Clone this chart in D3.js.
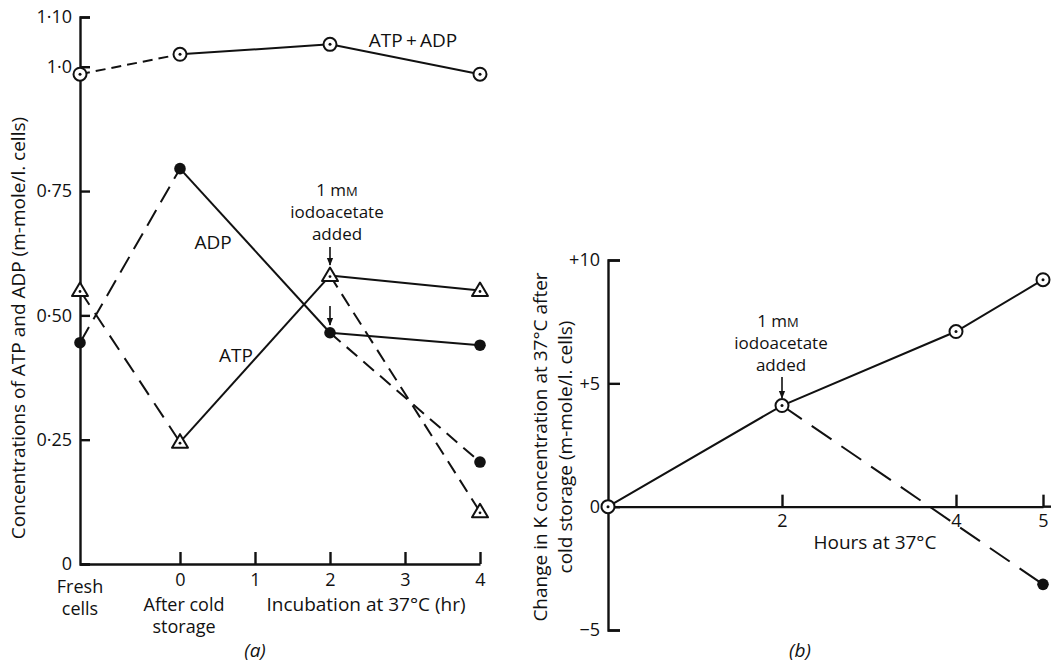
<!DOCTYPE html>
<html>
<head>
<meta charset="utf-8">
<title>ATP, ADP and K changes</title>
<style>
  html, body { margin: 0; padding: 0; background: #fff; }
  svg { display: block; }
  text { font-family: "Open Sans", "DejaVu Sans", sans-serif; fill: #111; font-weight: 500; }
  .axis path, .axis line { stroke: #111; stroke-width: 2.4; }
  .axis text { font-size: 18px; font-family: "Open Sans", sans-serif; fill: #111; }
  .line { fill: none; stroke: #111; stroke-width: 2; }
</style>
</head>
<body>
<svg width="1051" height="664">
  <defs>
    <marker id="arrow" viewBox="0 0 10 10" refX="9" refY="5" markerWidth="8" markerHeight="8"
            markerUnits="userSpaceOnUse" orient="auto">
      <path d="M 0 1 L 10 5 L 0 9 z" fill="#111"/>
    </marker>
  </defs>
</svg>
<script src="https://cdn.jsdelivr.net/npm/d3@7/dist/d3.min.js"></script>
<script>
// ---- panel (a) data: concentrations, m-mole/l. cells ----
// "Fresh cells" column sits left of hour 0 on the same axis
const FRESH = -4 / 3;
const timesA = [FRESH, 0, 2, 4];
const sumVals = [0.985, 1.025, 1.045, 0.985];         // ATP + ADP
const adpVals = [0.445, 0.795, 0.465];                 // fresh, 0, 2 hr
const atpVals = [0.55, 0.245, 0.58];
const adpAt4 = { control: 0.44, iodo: 0.205 };
const atpAt4 = { control: 0.55, iodo: 0.105 };
const yTicksA = [0, 0.25, 0.5, 0.75, 1.0, 1.10];
const yTickLabelsA = ["0", "0·25", "0·50", "0·75", "1·0", "1·10"];
const xTicksA = [0, 1, 2, 3, 4];

// ---- panel (b) data: change in K, m-mole/l. cells ----
const hoursB = [0, 2, 4, 5];
const kControl = [0, 4.1, 7.1, 9.2];
const kIodo = [[2, 4.1], [5, -3.15]];
const yTicksB = [-5, 0, 5, 10];
const yTickLabelsB = ["\u22125", "0", "+5", "+10"];
const xTicksB = [2, 4, 5];

var svg = d3.select("svg");

// ---------- panel (a) ----------
var xa = d3.scaleLinear().domain([FRESH, 4]).range([80, 480]);
var ya = d3.scaleLinear().domain([0, 1.10]).range([564, 17]);

var ga = svg.append("g");

ga.append("g").attr("class", "axis")
  .attr("transform", "translate(80,0)")
  .call(d3.axisLeft(ya).tickValues(yTicksA).tickSize(-10).tickSizeOuter(-10).tickPadding(8)
    .tickFormat((d, i) => yTickLabelsA[i]));

var xAxisA = ga.append("g").attr("class", "axis")
  .attr("transform", "translate(0,564)")
  .call(d3.axisBottom(xa).tickValues(xTicksA).tickFormat(d3.format("d"))
    .tickSize(-12).tickSizeOuter(0));
xAxisA.selectAll("text").attr("y", 9);

var line = d3.line();

function seg(g, p1, p2, dash, sx, sy) {
  g.append("path").attr("class", "line")
    .attr("d", line([[sx(p1[0]), sy(p1[1])], [sx(p2[0]), sy(p2[1])]]))
    .attr("stroke-dasharray", dash || null);
}

// ATP + ADP
seg(ga, [timesA[0], sumVals[0]], [timesA[1], sumVals[1]], "10,6", xa, ya);
seg(ga, [timesA[1], sumVals[1]], [timesA[2], sumVals[2]], null, xa, ya);
seg(ga, [timesA[2], sumVals[2]], [timesA[3], sumVals[3]], null, xa, ya);
// ADP
seg(ga, [timesA[0], adpVals[0]], [timesA[1], adpVals[1]], "18,9", xa, ya);
seg(ga, [timesA[1], adpVals[1]], [timesA[2], adpVals[2]], null, xa, ya);
seg(ga, [2, adpVals[2]], [4, adpAt4.control], null, xa, ya);
seg(ga, [2, adpVals[2]], [4, adpAt4.iodo], "14,8", xa, ya);
// ATP
seg(ga, [timesA[0], atpVals[0]], [timesA[1], atpVals[1]], "17,10", xa, ya);
seg(ga, [timesA[1], atpVals[1]], [timesA[2], atpVals[2]], null, xa, ya);
seg(ga, [2, atpVals[2]], [4, atpAt4.control], null, xa, ya);
seg(ga, [2, atpVals[2]], [4, atpAt4.iodo], "14,8", xa, ya);

function dotCircle(g, x, y) {
  g.append("circle").attr("cx", x).attr("cy", y).attr("r", 6.5)
    .attr("fill", "#fff").attr("stroke", "#111").attr("stroke-width", 2);
  g.append("circle").attr("cx", x).attr("cy", y).attr("r", 1.5).attr("fill", "#111");
}
function filled(g, x, y) {
  g.append("circle").attr("cx", x).attr("cy", y).attr("r", 5.8).attr("fill", "#111");
}
function triangle(g, x, y) {
  g.append("path")
    .attr("d", `M${x},${y - 8} L${x + 8},${y + 5.5} L${x - 8},${y + 5.5} Z`)
    .attr("fill", "#fff").attr("stroke", "#111").attr("stroke-width", 2)
    .attr("stroke-linejoin", "round");
  g.append("circle").attr("cx", x).attr("cy", y + 1).attr("r", 1.4).attr("fill", "#111");
}

timesA.forEach((t, i) => dotCircle(ga, xa(t), ya(sumVals[i])));
timesA.slice(0, 3).forEach((t, i) => filled(ga, xa(t), ya(adpVals[i])));
filled(ga, xa(4), ya(adpAt4.control));
filled(ga, xa(4), ya(adpAt4.iodo));
timesA.slice(0, 3).forEach((t, i) => triangle(ga, xa(t), ya(atpVals[i])));
triangle(ga, xa(4), ya(atpAt4.control));
triangle(ga, xa(4), ya(atpAt4.iodo));

// labels
function txt(g, x, y, s, opts) {
  var t = g.append("text").attr("x", x).attr("y", y).attr("font-size", (opts && opts.size) || 19)
    .attr("text-anchor", (opts && opts.anchor) || "middle");
  if (opts && opts.italic) t.attr("font-style", "italic");
  t.text(s);
  return t;
}
function mM(g, x, y) {
  var t = g.append("text").attr("x", x).attr("y", y).attr("font-size", 17).attr("text-anchor", "middle");
  t.append("tspan").text("1 m");
  t.append("tspan").attr("font-size", 13).text("M");
}

txt(ga, 413, 47, "ATP\u2009+\u2009ADP");
txt(ga, 213, 249, "ADP");
txt(ga, 236, 362, "ATP");
mM(ga, 337, 196);
txt(ga, 337, 218, "iodoacetate", { size: 17 });
txt(ga, 337, 240, "added", { size: 17 });
ga.append("line").attr("x1", xa(2)).attr("x2", xa(2)).attr("y1", 247).attr("y2", 265)
  .attr("stroke", "#111").attr("stroke-width", 1.6).attr("marker-end", "url(#arrow)");
ga.append("line").attr("x1", xa(2)).attr("x2", xa(2)).attr("y1", 306).attr("y2", 325)
  .attr("stroke", "#111").attr("stroke-width", 1.6).attr("marker-end", "url(#arrow)");

txt(ga, 80, 593, "Fresh", { size: 18 });
txt(ga, 80, 615, "cells", { size: 18 });
txt(ga, 184, 611, "After cold", { size: 18 });
txt(ga, 184, 633, "storage", { size: 18 });
txt(ga, 366, 611, "Incubation at 37°C (hr)");
txt(ga, 255, 657, "(a)", { italic: true });

ga.append("text").attr("transform", "translate(25,328) rotate(-90)")
  .attr("text-anchor", "middle").attr("font-size", 19)
  .text("Concentrations of ATP and ADP (m-mole/l. cells)");

// ---------- panel (b) ----------
var xb = d3.scaleLinear().domain([0, 5]).range([608, 1043]);
var yb = d3.scaleLinear().domain([-5, 10]).range([630, 260]);

var gb = svg.append("g");

gb.append("g").attr("class", "axis")
  .attr("transform", "translate(608,0)")
  .call(d3.axisLeft(yb).tickValues(yTicksB).tickSize(-12).tickSizeOuter(-12).tickPadding(8)
    .tickFormat((d, i) => yTickLabelsB[i]));

var xAxisB = gb.append("g").attr("class", "axis")
  .attr("transform", `translate(0,${yb(0)})`)
  .call(d3.axisBottom(xb).tickValues(xTicksB).tickFormat(d3.format("d"))
    .tickSize(-12).tickSizeOuter(0));
xAxisB.selectAll("text").attr("y", 8);
xAxisB.append("line").attr("x1", xb(5)).attr("x2", 1051).attr("y1", 0).attr("y2", 0);

var linePts = hoursB.map((h, i) => [xb(h), yb(kControl[i])]);
gb.append("path").attr("class", "line").attr("d", line(linePts));
gb.append("path").attr("class", "line").attr("stroke-dasharray", "24,12")
  .attr("d", line(kIodo.map(d => [xb(d[0]), yb(d[1])])));

hoursB.forEach((h, i) => dotCircle(gb, xb(h), yb(kControl[i])));
filled(gb, xb(kIodo[1][0]), yb(kIodo[1][1]));

mM(gb, 778, 327);
txt(gb, 781, 349, "iodoacetate", { size: 17 });
txt(gb, 781, 371, "added", { size: 17 });
gb.append("line").attr("x1", xb(2)).attr("x2", xb(2)).attr("y1", 377).attr("y2", 398)
  .attr("stroke", "#111").attr("stroke-width", 1.6).attr("marker-end", "url(#arrow)");

txt(gb, 875, 549, "Hours at 37°C");
txt(gb, 800, 657, "(b)", { italic: true });

gb.append("text").attr("transform", "translate(547,447) rotate(-90)")
  .attr("text-anchor", "middle").attr("font-size", 19)
  .text("Change in K concentration at 37°C after");
gb.append("text").attr("transform", "translate(572,447) rotate(-90)")
  .attr("text-anchor", "middle").attr("font-size", 19)
  .text("cold storage (m-mole/l. cells)");
</script>
</body>
</html>
